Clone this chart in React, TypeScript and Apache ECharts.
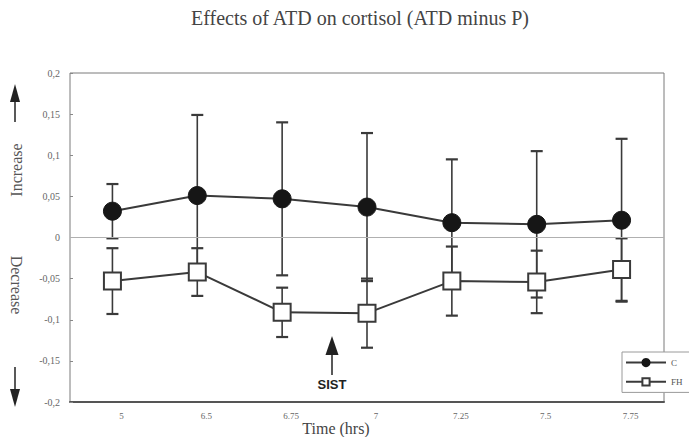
import React, { useEffect, useRef } from "react";
import * as echarts from "echarts";

const categories = ["5", "6.5", "6.75", "7", "7.25", "7.5", "7.75"];
const cMean = [0.032, 0.051, 0.047, 0.037, 0.018, 0.016, 0.021];
const cErr = [0.033, 0.098, 0.093, 0.09, 0.077, 0.089, 0.099];
const fhMean = [-0.053, -0.042, -0.091, -0.092, -0.053, -0.054, -0.039];
const fhErr = [0.04, 0.029, 0.03, 0.042, 0.042, 0.038, 0.038];

const SERIF = "Liberation Serif, DejaVu Serif, serif";
const SANS = "Liberation Sans, Arial, sans-serif";
const INK = "#3a3a3a";

function errorData(mean: number[], err: number[]) {
  return mean.map((m, i) => [i, m - err[i], m + err[i]]);
}

function errorSeries(name: string, mean: number[], err: number[]) {
  return {
    type: "custom",
    name: name + "-err",
    z: 1,
    silent: true,
    renderItem: (params: any, api: any) => {
      const x = api.value(0);
      const lo = api.coord([x, api.value(1)]);
      const hi = api.coord([x, api.value(2)]);
      const w = 6;
      return {
        type: "group",
        children: [
          { type: "line", shape: { x1: lo[0], y1: lo[1], x2: hi[0], y2: hi[1] }, style: { stroke: INK, lineWidth: 1.6 } },
          { type: "line", shape: { x1: lo[0] - w, y1: lo[1], x2: lo[0] + w, y2: lo[1] }, style: { stroke: INK, lineWidth: 2.2 } },
          { type: "line", shape: { x1: hi[0] - w, y1: hi[1], x2: hi[0] + w, y2: hi[1] }, style: { stroke: INK, lineWidth: 2.2 } },
        ],
      };
    },
    encode: { x: 0, y: [1, 2] },
    data: errorData(mean, err),
  };
}

export default function App() {
  const ref = useRef<HTMLDivElement>(null);
  useEffect(() => {
    if (!ref.current) return;
    const chart = echarts.init(ref.current, null, { renderer: "svg" });
    chart.setOption({
      animation: false,
      backgroundColor: "#ffffff",
      grid: {
        left: 70,
        top: 73,
        right: 25,
        bottom: 35,
        show: true,
        borderColor: "#7a7a7a",
        borderWidth: 1,
      },
      legend: {
        orient: "vertical",
        left: 622,
        top: 352,
        padding: [6, 20, 6, 3],
        itemWidth: 40,
        itemHeight: 9,
        itemGap: 10,
        backgroundColor: "#ffffff",
        borderColor: "#9a9a9a",
        borderWidth: 1,
        textStyle: { fontFamily: SERIF, fontSize: 9, color: "#555" },
        data: ["C", "FH"],
      },
      xAxis: {
        type: "category",
        data: categories,
        boundaryGap: true,
        axisLine: { show: true, onZero: false, lineStyle: { color: "#555", width: 2 } },
        axisTick: { show: false },
        axisLabel: {
          fontFamily: SERIF,
          fontSize: 9,
          color: "#666",
          margin: 9,
          padding: [0, 0, 0, 18],
        },
        splitLine: { show: false },
      },
      yAxis: {
        type: "value",
        min: -0.2,
        max: 0.2,
        interval: 0.05,
        axisLine: { show: false },
        axisTick: { show: true, inside: true, length: 3, lineStyle: { color: "#888" } },
        axisLabel: {
          fontFamily: SERIF,
          fontSize: 10,
          color: "#666",
          margin: 10,
          formatter: (v: number) => String(Math.round(v * 100) / 100).replace(".", ","),
        },
        splitLine: { show: false },
      },
      series: [
        errorSeries("C", cMean, cErr),
        errorSeries("FH", fhMean, fhErr),
        {
          name: "C",
          type: "line",
          z: 3,
          data: cMean,
          symbol: "circle",
          symbolSize: 18,
          lineStyle: { color: INK, width: 2 },
          itemStyle: { color: "#161616", borderColor: "#161616", borderWidth: 1 },
          markLine: {
            silent: true,
            symbol: ["none", "none"],
            label: { show: false },
            lineStyle: { color: "#b0b0b0", width: 1, type: "solid" },
            data: [{ yAxis: 0 }],
          },
        },
        {
          name: "FH",
          type: "line",
          z: 3,
          data: fhMean,
          symbol: "rect",
          symbolSize: 17,
          lineStyle: { color: INK, width: 2 },
          itemStyle: { color: "#ffffff", borderColor: INK, borderWidth: 2 },
        },
      ],
      graphic: [
        {
          type: "text",
          style: {
            text: "Effects of ATD on cortisol (ATD minus P)",
            x: 360,
            y: 8,
            textAlign: "center",
            fontFamily: SERIF,
            fontSize: 20,
            fill: "#444",
          },
        },
        {
          type: "text",
          style: {
            text: "Time (hrs)",
            x: 336,
            y: 420,
            textAlign: "center",
            fontFamily: SERIF,
            fontSize: 16,
            fill: "#444",
          },
        },
        {
          type: "text",
          x: 16,
          y: 170,
          rotation: Math.PI / 2,
          style: {
            text: "Increase",
            x: 0,
            y: 0,
            textAlign: "center",
            textVerticalAlign: "middle",
            fontFamily: SERIF,
            fontSize: 16,
            fill: "#555",
          },
        },
        {
          type: "text",
          x: 16,
          y: 285,
          rotation: -Math.PI / 2,
          style: {
            text: "Decrease",
            x: 0,
            y: 0,
            textAlign: "center",
            textVerticalAlign: "middle",
            fontFamily: SERIF,
            fontSize: 16,
            fill: "#555",
          },
        },
        { type: "line", shape: { x1: 15, y1: 98, x2: 15, y2: 122 }, style: { stroke: "#222", lineWidth: 1.5 } },
        { type: "polygon", shape: { points: [[15, 84], [10, 102], [20, 102]] }, style: { fill: "#222" } },
        { type: "line", shape: { x1: 15, y1: 367, x2: 15, y2: 392 }, style: { stroke: "#222", lineWidth: 1.5 } },
        { type: "polygon", shape: { points: [[15, 407], [10, 389], [20, 389]] }, style: { fill: "#222" } },
        { type: "line", shape: { x1: 332, y1: 350, x2: 332, y2: 375 }, style: { stroke: "#222", lineWidth: 1.5 } },
        { type: "polygon", shape: { points: [[332, 336], [325.5, 355], [338.5, 355]] }, style: { fill: "#222" } },
        {
          type: "text",
          style: {
            text: "SIST",
            x: 332,
            y: 378,
            textAlign: "center",
            fontFamily: SANS,
            fontWeight: "bold",
            fontSize: 13,
            fill: "#222",
          },
        },
      ],
    });
    return () => chart.dispose();
  }, []);
  return <div ref={ref} style={{ width: 689, height: 437, position: "absolute", left: 0, top: 0 }} />;
}
